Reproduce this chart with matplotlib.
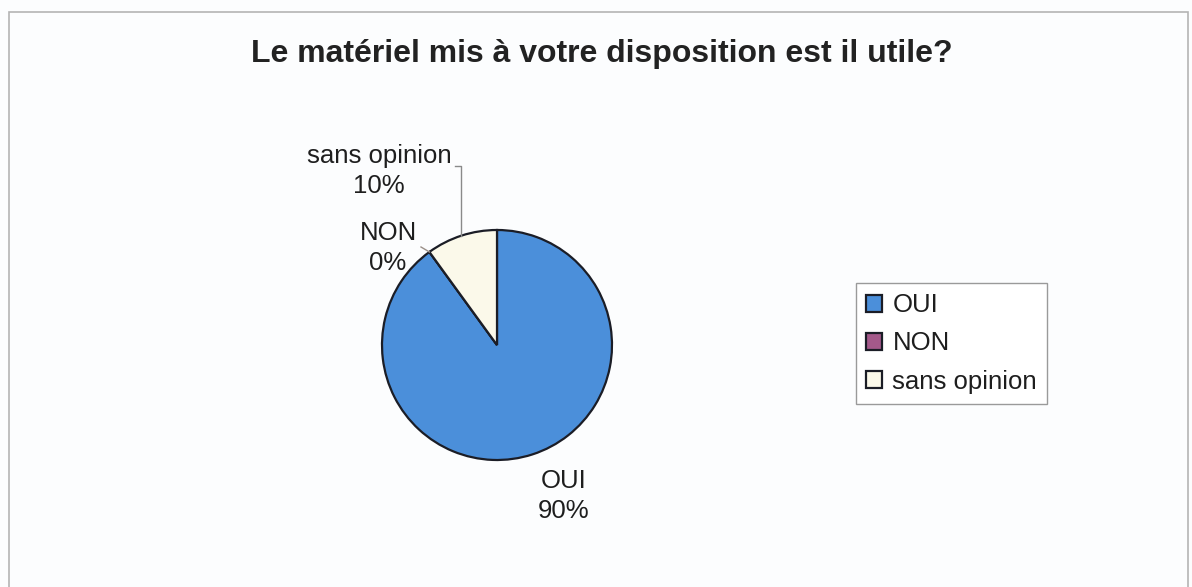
import numpy as np
import matplotlib.pyplot as plt
from matplotlib.patches import Rectangle

plt.rcParams["font.family"] = ["Liberation Sans", "DejaVu Sans"]

# Réponses au questionnaire
categories = ["OUI", "NON", "sans opinion"]
percentages = [90, 0, 10]
colors = ["#4B8FDA", "#A4598A", "#FBF9EA"]
title = "Le matériel mis à votre disposition est il utile?"

W, H = 1192, 587
fig = plt.figure(figsize=(W / 100, H / 100), dpi=100, facecolor="#FCFDFE")
ax = fig.add_axes([0, 0, 1, 1])


def yy(y):
    # pixel rows counted from the top
    return H - y


cx, cy, r = 497, yy(345), 115
wedges, _ = ax.pie(
    percentages,
    colors=colors,
    startangle=90,
    counterclock=False,
    center=(cx, cy),
    radius=r,
    wedgeprops={"edgecolor": "#1b1d26", "linewidth": 1.6},
)
ax.set_xlim(0, W)
ax.set_ylim(0, H)
ax.set_aspect("equal")
ax.axis("off")

# chart frame
ax.add_patch(Rectangle((9, yy(640)), 1179, 628, fill=False,
                       edgecolor="#B4B4B4", linewidth=1.2, clip_on=False))

ax.text(602, yy(62), title, ha="center", va="baseline",
        fontsize=23, fontweight="bold", color="#222222")

# slice mid angles (clockwise from 12 o'clock)
fracs = np.array(percentages) / sum(percentages)
ends = 90 - 360 * np.cumsum(fracs)
starts = ends + 360 * fracs
mids = np.radians((starts + ends) / 2)

# label anchor: centre x, baseline of the percentage line
label_pos = {"OUI": (564, 518), "NON": (388, 270), "sans opinion": (379, 193)}
for name, pct in zip(categories, percentages):
    x, y = label_pos[name]
    ax.text(x, yy(y), f"{name}\n{pct}%", ha="center", va="baseline",
            fontsize=18.5, color="#1e1e1e", linespacing=1.3)

# leader lines for the two small slices
ex = cx + r * np.cos(mids[2])
ey = cy + r * np.sin(mids[2])
ax.plot([ex, ex, ex - 6], [ey, yy(166), yy(166)], color="#8a8a8a", lw=1)
ex = cx + r * np.cos(mids[1])
ey = cy + r * np.sin(mids[1])
ax.plot([421, ex], [yy(247), ey], color="#9a8f88", lw=1)

leg = ax.legend(
    wedges, categories,
    loc="upper left", bbox_to_anchor=(856 / W, 1 - 283 / H),
    bbox_transform=fig.transFigure,
    fontsize=18.5, frameon=True, fancybox=False,
    edgecolor="#9a9a9a", facecolor="#FFFFFF", framealpha=1,
    handlelength=0.62, handleheight=0.62, handletextpad=0.4,
    labelspacing=0.55, borderpad=0.4, borderaxespad=0,
)
leg.get_frame().set_linewidth(1)
for t in leg.get_texts():
    t.set_color("#1e1e1e")

fig.savefig("out.png", dpi=100, facecolor=fig.get_facecolor())
